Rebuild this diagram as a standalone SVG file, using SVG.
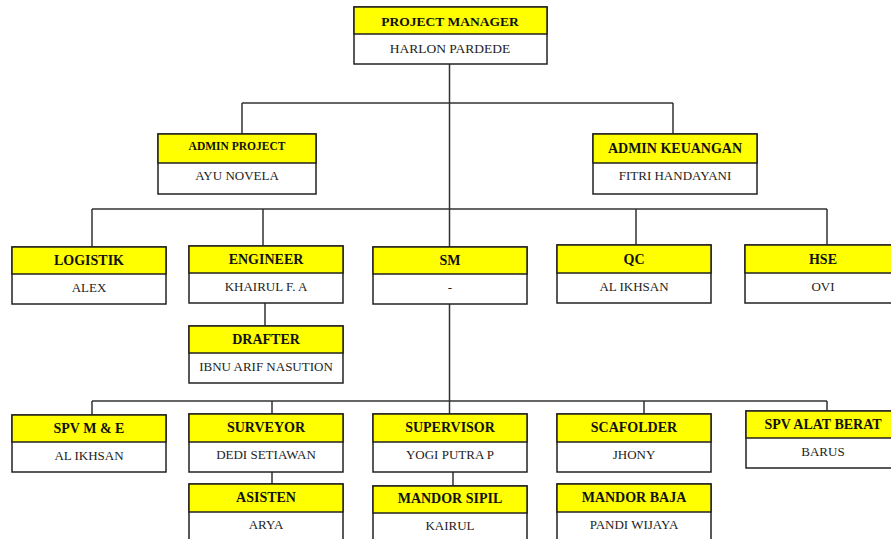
<svg xmlns="http://www.w3.org/2000/svg" width="891" height="539" viewBox="0 0 891 539">
<style>
.hd{fill:#ffff00;stroke:#222;stroke-width:1.5}
.bd{fill:#fff;stroke:#222;stroke-width:1.5}
.t{font-family:"Liberation Serif","Times New Roman",serif;font-weight:bold;font-size:14px;fill:#111;text-anchor:middle}
.n{font-family:"Liberation Serif","Times New Roman",serif;font-size:13px;fill:#222;text-anchor:middle}
.c{stroke:#333;stroke-width:1.5;fill:none}
</style>
<rect width="891" height="539" fill="#fff"/>
<g id="connectors">
<path class="c" d="M449.5 64V247M242 103H673M242 103V134M673 103V134M92 209H827M92 209V247M263 209V246M636 209V245M827 209V245M265 303V326M449.5 304V414M92 401H827M92 401V415M272 401V414M644 401V414M827 401V411M272 472V484M453 472V486"/>
</g>
<g id="pm">
<rect class="bd" x="354" y="7" width="193" height="57"/>
<rect class="hd" x="354" y="7" width="193" height="27"/>
<text class="t" x="450" y="26" style="font-size:13.5px">PROJECT MANAGER</text>
<text class="n" x="450" y="53" style="font-size:13.5px">HARLON PARDEDE</text>
</g>
<g id="admin-project">
<rect class="bd" x="158" y="134" width="158" height="60"/>
<rect class="hd" x="158" y="134" width="158" height="29"/>
<text class="t" x="237" y="150" style="font-size:11.5px">ADMIN PROJECT</text>
<text class="n" x="237" y="180">AYU NOVELA</text>
</g>
<g id="admin-keuangan">
<rect class="bd" x="593" y="134" width="164" height="60"/>
<rect class="hd" x="593" y="134" width="164" height="29"/>
<text class="t" x="675" y="153">ADMIN KEUANGAN</text>
<text class="n" x="675" y="180">FITRI HANDAYANI</text>
</g>
<g id="logistik">
<rect class="bd" x="12" y="247" width="154" height="57"/>
<rect class="hd" x="12" y="247" width="154" height="27"/>
<text class="t" x="89" y="265">LOGISTIK</text>
<text class="n" x="89" y="292">ALEX</text>
</g>
<g id="engineer">
<rect class="bd" x="189" y="246" width="154" height="57"/>
<rect class="hd" x="189" y="246" width="154" height="27"/>
<text class="t" x="266" y="264">ENGINEER</text>
<text class="n" x="266" y="291">KHAIRUL F. A</text>
</g>
<g id="sm">
<rect class="bd" x="373" y="247" width="154" height="57"/>
<rect class="hd" x="373" y="247" width="154" height="27"/>
<text class="t" x="450" y="265">SM</text>
<text class="n" x="450" y="292">-</text>
</g>
<g id="qc">
<rect class="bd" x="557" y="245" width="154" height="58"/>
<rect class="hd" x="557" y="245" width="154" height="28"/>
<text class="t" x="634" y="264">QC</text>
<text class="n" x="634" y="291">AL IKHSAN</text>
</g>
<g id="hse">
<rect class="bd" x="745" y="245" width="156" height="58"/>
<rect class="hd" x="745" y="245" width="156" height="28"/>
<text class="t" x="823" y="264">HSE</text>
<text class="n" x="823" y="291">OVI</text>
</g>
<g id="drafter">
<rect class="bd" x="189" y="326" width="154" height="57"/>
<rect class="hd" x="189" y="326" width="154" height="27"/>
<text class="t" x="266" y="344">DRAFTER</text>
<text class="n" x="266" y="371">IBNU ARIF NASUTION</text>
</g>
<g id="spv-me">
<rect class="bd" x="12" y="415" width="154" height="57"/>
<rect class="hd" x="12" y="415" width="154" height="27"/>
<text class="t" x="89" y="433">SPV M &amp; E</text>
<text class="n" x="89" y="460">AL IKHSAN</text>
</g>
<g id="surveyor">
<rect class="bd" x="189" y="414" width="154" height="58"/>
<rect class="hd" x="189" y="414" width="154" height="28"/>
<text class="t" x="266" y="432">SURVEYOR</text>
<text class="n" x="266" y="459">DEDI SETIAWAN</text>
</g>
<g id="supervisor">
<rect class="bd" x="373" y="414" width="154" height="58"/>
<rect class="hd" x="373" y="414" width="154" height="28"/>
<text class="t" x="450" y="432">SUPERVISOR</text>
<text class="n" x="450" y="459">YOGI PUTRA P</text>
</g>
<g id="scafolder">
<rect class="bd" x="557" y="414" width="154" height="58"/>
<rect class="hd" x="557" y="414" width="154" height="28"/>
<text class="t" x="634" y="432">SCAFOLDER</text>
<text class="n" x="634" y="459">JHONY</text>
</g>
<g id="spv-alat-berat">
<rect class="bd" x="746" y="411" width="156" height="57"/>
<rect class="hd" x="746" y="411" width="156" height="27"/>
<text class="t" x="823" y="429">SPV ALAT BERAT</text>
<text class="n" x="823" y="456">BARUS</text>
</g>
<g id="asisten">
<rect class="bd" x="189" y="484" width="154" height="70"/>
<rect class="hd" x="189" y="484" width="154" height="28"/>
<text class="t" x="266" y="502">ASISTEN</text>
<text class="n" x="266" y="529">ARYA</text>
</g>
<g id="mandor-sipil">
<rect class="bd" x="373" y="486" width="154" height="70"/>
<rect class="hd" x="373" y="486" width="154" height="27"/>
<text class="t" x="450" y="503">MANDOR SIPIL</text>
<text class="n" x="450" y="530">KAIRUL</text>
</g>
<g id="mandor-baja">
<rect class="bd" x="557" y="484" width="154" height="70"/>
<rect class="hd" x="557" y="484" width="154" height="28"/>
<text class="t" x="634" y="502">MANDOR BAJA</text>
<text class="n" x="634" y="529">PANDI WIJAYA</text>
</g>
</svg>
